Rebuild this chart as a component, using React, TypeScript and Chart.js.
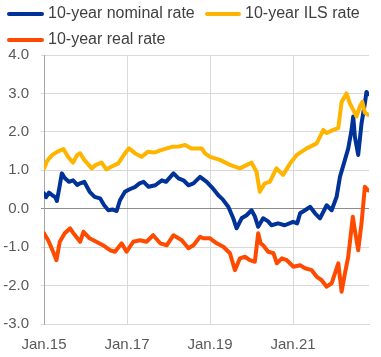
import React, { useEffect, useRef } from "react";
import { Chart, registerables } from "chart.js";

Chart.register(...registerables);

const FONT = "'Liberation Sans', Arial, sans-serif";

const seriesLabels = ["10-year nominal rate", "10-year ILS rate", "10-year real rate"];
const seriesColors = ["#003299", "#FFB400", "#FF4B00"];

const xTickYears = [2015, 2017, 2019, 2021];
const yTickValues = [-3, -2, -1, 0, 1, 2, 3, 4];

const nominalDates = [
  2015.0, 2015.05, 2015.12, 2015.2, 2015.27, 2015.31, 2015.37, 2015.43, 2015.5, 2015.6,
  2015.7, 2015.8, 2015.87, 2015.97, 2016.1, 2016.22, 2016.35, 2016.45, 2016.55, 2016.65,
  2016.75, 2016.83, 2016.95, 2017.05, 2017.2, 2017.3, 2017.4, 2017.52, 2017.68, 2017.84,
  2017.94, 2018.12, 2018.24, 2018.36, 2018.48, 2018.6, 2018.76, 2018.92, 2019.05, 2019.2,
  2019.3, 2019.44, 2019.56, 2019.64, 2019.76, 2019.88, 2020.0, 2020.08, 2020.16, 2020.28,
  2020.4, 2020.48, 2020.64, 2020.8, 2021.0, 2021.1, 2021.17, 2021.29, 2021.41, 2021.53,
  2021.65, 2021.81, 2021.93, 2022.05, 2022.13, 2022.25, 2022.33, 2022.41, 2022.45, 2022.49,
  2022.57, 2022.65, 2022.73, 2022.77, 2022.81,
];
const nominalValues = [
  0.4, 0.3, 0.42, 0.35, 0.3, 0.2, 0.55, 0.92, 0.8, 0.7,
  0.74, 0.62, 0.66, 0.7, 0.44, 0.31, 0.27, 0.09, -0.04, -0.02,
  -0.06, 0.22, 0.44, 0.5, 0.57, 0.66, 0.7, 0.57, 0.61, 0.74,
  0.7, 0.92, 0.79, 0.74, 0.61, 0.66, 0.83, 0.7, 0.55, 0.35,
  0.25, 0.05, -0.25, -0.51, -0.25, -0.17, -0.04, -0.2, -0.47, -0.25,
  -0.33, -0.43, -0.38, -0.43, -0.34, -0.38, -0.12, -0.04, 0.05, -0.12,
  -0.25, 0.09, -0.04, 0.31, 0.83, 1.27, 1.57, 2.05, 2.4, 1.87,
  1.4, 2.22, 2.74, 3.04, 2.98,
];

const ilsDates = [
  2015.0, 2015.08, 2015.2, 2015.35, 2015.47, 2015.58, 2015.7, 2015.8, 2015.87, 2015.97,
  2016.15, 2016.25, 2016.39, 2016.5, 2016.62, 2016.79, 2016.95, 2017.05, 2017.2, 2017.35,
  2017.5, 2017.65, 2017.84, 2018.08, 2018.25, 2018.4, 2018.55, 2018.8, 2018.88, 2019.0,
  2019.24, 2019.48, 2019.72, 2020.0, 2020.12, 2020.2, 2020.32, 2020.44, 2020.6, 2020.76,
  2020.93, 2021.09, 2021.33, 2021.57, 2021.73, 2021.81, 2021.97, 2022.09, 2022.17, 2022.29,
  2022.37, 2022.45, 2022.53, 2022.61, 2022.67, 2022.73, 2022.81,
];
const ilsValues = [
  1.05, 1.25, 1.4, 1.5, 1.55, 1.35, 1.2, 1.4, 1.44, 1.27,
  1.05, 1.14, 1.2, 1.02, 1.09, 1.18, 1.44, 1.57, 1.44, 1.35,
  1.48, 1.46, 1.53, 1.61, 1.62, 1.66, 1.57, 1.57, 1.44, 1.35,
  1.27, 1.14, 1.05, 1.2, 0.96, 0.44, 0.66, 0.7, 1.05, 0.88,
  1.18, 1.4, 1.57, 1.7, 2.05, 1.97, 2.05, 2.1, 2.78, 3.0,
  2.74, 2.57, 2.4, 2.66, 2.78, 2.5, 2.44,
];

const realDates = [
  2015.0, 2015.1, 2015.22, 2015.3, 2015.38, 2015.5, 2015.63, 2015.71, 2015.87, 2015.95,
  2016.1, 2016.26, 2016.42, 2016.59, 2016.71, 2016.87, 2016.99, 2017.15, 2017.31, 2017.47,
  2017.63, 2017.8, 2017.96, 2018.12, 2018.32, 2018.48, 2018.6, 2018.76, 2018.84, 2019.0,
  2019.16, 2019.32, 2019.48, 2019.6, 2019.72, 2019.84, 2019.96, 2020.08, 2020.16, 2020.22,
  2020.28, 2020.4, 2020.53, 2020.61, 2020.73, 2020.85, 2021.01, 2021.17, 2021.29, 2021.45,
  2021.57, 2021.69, 2021.81, 2021.93, 2022.01, 2022.09, 2022.17, 2022.25, 2022.33, 2022.44,
  2022.49, 2022.57, 2022.65, 2022.73, 2022.81,
];
const realValues = [
  -0.64, -0.82, -1.12, -1.34, -0.86, -0.64, -0.51, -0.64, -0.86, -0.6,
  -0.77, -0.86, -0.95, -1.08, -1.12, -0.9, -1.12, -0.86, -0.82, -0.86,
  -0.69, -0.9, -0.95, -0.69, -0.82, -1.03, -0.95, -0.73, -0.77, -0.77,
  -0.9, -0.99, -1.16, -1.6, -1.29, -1.25, -1.34, -1.38, -0.64, -0.9,
  -0.95, -1.12, -1.16, -1.42, -1.29, -1.34, -1.51, -1.47, -1.55, -1.6,
  -1.77, -1.86, -2.03, -1.94, -1.68, -1.42, -2.16, -1.68, -1.25, -0.21,
  -0.56, -1.08, -0.38, 0.57, 0.48,
];

const toPoints = (xs: number[], ys: number[]) => xs.map((x, i) => ({ x, y: ys[i] }));

export default function App() {
  const canvasRef = useRef<HTMLCanvasElement | null>(null);

  useEffect(() => {
    if (!canvasRef.current) return;
    const chart = new Chart(canvasRef.current, {
      type: "line",
      data: {
        datasets: [
          { label: seriesLabels[2], data: toPoints(realDates, realValues), borderColor: seriesColors[2], backgroundColor: seriesColors[2] },
          { label: seriesLabels[1], data: toPoints(ilsDates, ilsValues), borderColor: seriesColors[1], backgroundColor: seriesColors[1] },
          { label: seriesLabels[0], data: toPoints(nominalDates, nominalValues), borderColor: seriesColors[0], backgroundColor: seriesColors[0] },
        ].map((d) => ({ ...d, borderWidth: 4, pointRadius: 0, tension: 0, fill: false, borderJoinStyle: "round" as const, borderCapStyle: "round" as const })),
      },
      options: {
        responsive: false,
        animation: false,
        events: [],
        layout: { padding: { top: 55, right: 12, left: 0, bottom: 0 } },
        plugins: { legend: { display: false }, tooltip: { enabled: false } },
        scales: {
          x: {
            type: "linear",
            min: 2015,
            max: 2022.83,
            afterBuildTicks: (scale: any) => {
              scale.ticks = xTickYears.map((v) => ({ value: v }));
            },
            afterFit: (scale: any) => {
              scale.height = 33;
            },
            ticks: {
              stepSize: 2,
              autoSkip: false,
              maxRotation: 0,
              padding: 12,
              color: "#595959",
              font: { family: FONT, size: 15 },
              callback: (v: any) => "Jan." + String(v).slice(2),
            },
            grid: { color: "#d9d9d9", lineWidth: 1, drawTicks: false, tickLength: 0 },
            border: { color: "#d9d9d9", width: 1 },
          },
          y: {
            type: "linear",
            min: -3,
            max: 4,
            afterBuildTicks: (scale: any) => {
              scale.ticks = yTickValues.map((v) => ({ value: v }));
            },
            afterFit: (scale: any) => {
              scale.width = 44;
            },
            ticks: {
              stepSize: 1,
              padding: 12,
              color: "#595959",
              font: { family: FONT, size: 15 },
              callback: (v: any) => Number(v).toFixed(1),
            },
            grid: {
              color: (ctx: any) => (ctx.tick && ctx.tick.value === 0 ? "#8c8c8c" : "#d9d9d9"),
              lineWidth: 1,
              tickLength: 3,
            },
            border: { color: "#a6a6a6", width: 1 },
          },
        },
      },
    });
    return () => chart.destroy();
  }, []);

  const legendText: React.CSSProperties = {
    position: "absolute",
    fontFamily: FONT,
    fontSize: 16,
    lineHeight: "18px",
    color: "#404040",
    whiteSpace: "nowrap",
  };
  const swatch = (left: number, top: number, width: number, color: string): React.CSSProperties => ({
    position: "absolute",
    left,
    top,
    width,
    height: 4,
    borderRadius: 2,
    background: color,
  });

  return (
    <div style={{ position: "fixed", left: 0, top: 0, width: 381, height: 357, background: "#ffffff", overflow: "hidden" }}>
      <canvas ref={canvasRef} width={381} height={357} style={{ position: "absolute", left: 0, top: 0, width: 381, height: 357 }} />
      <div style={swatch(7, 12, 37, seriesColors[0])} />
      <div style={{ ...legendText, left: 48, top: 4 }}>{seriesLabels[0]}</div>
      <div style={swatch(205, 12, 36, seriesColors[1])} />
      <div style={{ ...legendText, left: 245, top: 4 }}>{seriesLabels[1]}</div>
      <div style={swatch(7, 38, 37, seriesColors[2])} />
      <div style={{ ...legendText, left: 48, top: 30 }}>{seriesLabels[2]}</div>
    </div>
  );
}
